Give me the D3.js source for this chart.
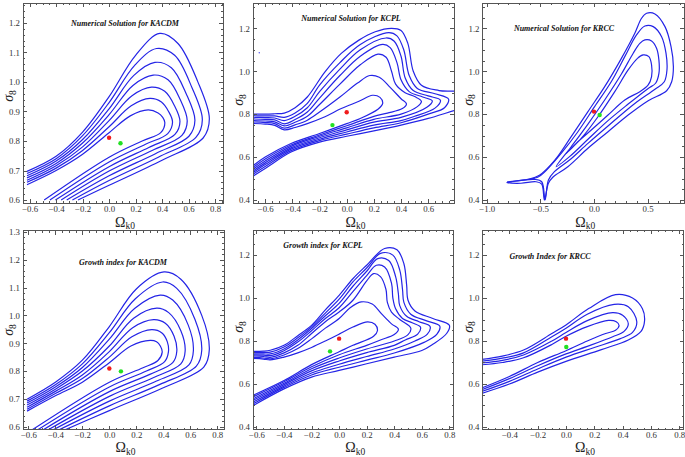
<!DOCTYPE html>
<html><head><meta charset="utf-8">
<script src="https://cdn.jsdelivr.net/npm/d3@7"></script>
<style>body{margin:0;background:#fff}svg{display:block}</style>
</head><body>
<svg id="chart" width="685" height="457"></svg>
<script>
// ---------------- DATA ----------------
const titles = ["Numerical Solution for KACDM","Numerical Solution for KCPL","Numerical Solution for KRCC",
                "Growth index for KACDM","Growth index for KCPL","Growth Index for KRCC"];

const xTicksA = [-0.6,-0.4,-0.2,0,0.2,0.4,0.6,0.8];
const xTicksB = [-0.6,-0.4,-0.2,0,0.2,0.4,0.6];
const xTicksC = [-1.0,-0.5,0,0.5];
const xTicksD = [-0.4,-0.2,0,0.2,0.4,0.6,0.8];
const yTicksA = [0.6,0.7,0.8,0.9,1.0,1.1,1.2];
const yTicksB = [0.6,0.7,0.8,0.9,1.0,1.1,1.2,1.3];
const yTicksC = [0.4,0.6,0.8,1.0,1.2];

// best-fit points [Omega_k0, sigma_8]
const redPoints   = [[0,0.811],[0,0.809],[0,0.812],[0,0.809],[0,0.811],[0,0.811]];
const greenPoints = [[0.086,0.792],[-0.105,0.749],[0.053,0.796],[0.086,0.799],[-0.066,0.752],[0.002,0.772]];
const strayPoints = [[-0.644,1.086]];

// contour lines, inner -> outer, [Omega_k0, sigma_8]
const kacdmNumContours = [
 [[-0.62,0.652],[-0.4,0.700],[-0.2,0.755],[0,0.828],[0.16,0.885],[0.295,0.905],[0.37,0.895],[0.405,0.88],[0.421,0.862],[0.39,0.828],[0.25,0.80],[0,0.745],[-0.49,0.6]],
 [[-0.62,0.660],[-0.4,0.708],[-0.2,0.768],[0,0.848],[0.167,0.919],[0.308,0.944],[0.395,0.932],[0.449,0.90],[0.479,0.864],[0.443,0.825],[0.275,0.789],[0,0.729],[-0.447,0.6]],
 [[-0.62,0.667],[-0.4,0.716],[-0.2,0.780],[0,0.869],[0.173,0.953],[0.32,0.982],[0.42,0.968],[0.493,0.92],[0.535,0.866],[0.497,0.822],[0.3,0.778],[0,0.713],[-0.405,0.6]],
 [[-0.62,0.675],[-0.4,0.724],[-0.2,0.793],[0,0.889],[0.18,0.988],[0.333,1.023],[0.445,1.007],[0.537,0.94],[0.59,0.868],[0.55,0.819],[0.325,0.768],[0,0.698],[-0.362,0.6]],
 [[-0.62,0.682],[-0.4,0.732],[-0.2,0.805],[0,0.909],[0.187,1.022],[0.346,1.066],[0.47,1.048],[0.582,0.96],[0.648,0.870],[0.603,0.816],[0.35,0.757],[0,0.682],[-0.32,0.6]],
 [[-0.62,0.690],[-0.4,0.740],[-0.2,0.818],[0,0.930],[0.193,1.056],[0.358,1.113],[0.495,1.09],[0.626,0.98],[0.704,0.872],[0.657,0.813],[0.375,0.746],[0,0.666],[-0.277,0.6]],
 [[-0.62,0.697],[-0.4,0.748],[-0.2,0.830],[0,0.950],[0.2,1.09],[0.383,1.164],[0.52,1.13],[0.67,1.0],[0.757,0.875],[0.71,0.81],[0.40,0.735],[0,0.65],[-0.235,0.6]]
];

const kcplNumContours = [
 [[-0.72,0.757],[-0.60,0.754],[-0.53,0.748],[-0.46,0.727],[-0.38,0.738],[-0.29,0.756],[-0.16,0.788],[-0.04,0.826],[0.09,0.86],[0.19,0.888],[0.245,0.878],[0.265,0.85],[0.23,0.823],[0.1,0.78],[0.0,0.756],[-0.2,0.71],[-0.41,0.663],[-0.6,0.60],[-0.72,0.545]],
 [[-0.72,0.764],[-0.60,0.761],[-0.53,0.756],[-0.46,0.735],[-0.38,0.75],[-0.29,0.772],[-0.2,0.81],[-0.05,0.88],[0.08,0.945],[0.17,0.98],[0.24,0.972],[0.32,0.925],[0.40,0.872],[0.44,0.848],[0.41,0.826],[0.3,0.805],[0.2,0.79],[0.0,0.746],[-0.2,0.703],[-0.41,0.656],[-0.6,0.591],[-0.72,0.537]],
 [[-0.72,0.771],[-0.60,0.768],[-0.53,0.764],[-0.46,0.745],[-0.38,0.762],[-0.29,0.79],[-0.2,0.845],[-0.05,0.94],[0.1,1.03],[0.23,1.08],[0.29,1.065],[0.33,1.0],[0.36,0.94],[0.43,0.9],[0.50,0.882],[0.55,0.86],[0.52,0.835],[0.4,0.80],[0.2,0.776],[0.0,0.736],[-0.2,0.697],[-0.41,0.65],[-0.6,0.582],[-0.72,0.53]],
 [[-0.72,0.778],[-0.60,0.776],[-0.53,0.773],[-0.46,0.755],[-0.38,0.775],[-0.29,0.81],[-0.2,0.875],[-0.05,0.98],[0.1,1.07],[0.265,1.125],[0.32,1.11],[0.37,1.04],[0.40,0.96],[0.46,0.905],[0.56,0.88],[0.63,0.862],[0.59,0.832],[0.4,0.785],[0.2,0.763],[0.0,0.727],[-0.2,0.69],[-0.41,0.643],[-0.6,0.573],[-0.72,0.522]],
 [[-0.72,0.786],[-0.60,0.784],[-0.53,0.782],[-0.46,0.77],[-0.38,0.79],[-0.29,0.83],[-0.2,0.905],[-0.05,1.01],[0.1,1.10],[0.29,1.155],[0.35,1.14],[0.40,1.07],[0.43,0.97],[0.49,0.91],[0.6,0.885],[0.69,0.865],[0.65,0.828],[0.5,0.79],[0.4,0.77],[0.2,0.749],[0.0,0.717],[-0.2,0.683],[-0.41,0.637],[-0.6,0.565],[-0.72,0.515]],
 [[-0.72,0.793],[-0.60,0.792],[-0.53,0.792],[-0.46,0.785],[-0.38,0.805],[-0.29,0.85],[-0.2,0.935],[-0.05,1.04],[0.1,1.125],[0.31,1.18],[0.37,1.165],[0.42,1.10],[0.46,0.98],[0.52,0.92],[0.65,0.895],[0.75,0.87],[0.72,0.83],[0.6,0.80],[0.4,0.76],[0.2,0.736],[0.0,0.707],[-0.2,0.677],[-0.41,0.63],[-0.6,0.556],[-0.72,0.508]],
 [[-0.72,0.80],[-0.60,0.80],[-0.53,0.802],[-0.46,0.805],[-0.38,0.83],[-0.29,0.88],[-0.16,0.997],[-0.04,1.083],[0.09,1.145],[0.21,1.184],[0.33,1.20],[0.40,1.19],[0.45,1.13],[0.49,1.0],[0.55,0.935],[0.68,0.91],[0.85,0.90],[0.88,0.86],[0.85,0.825],[0.81,0.82],[0.6,0.78],[0.4,0.749],[0.2,0.722],[0.0,0.697],[-0.2,0.67],[-0.41,0.624],[-0.6,0.547],[-0.72,0.50]]
];

const krccNumContours = [
 [[-0.259,0.617],[-0.119,0.687],[0.0375,0.788],[0.194,0.905],[0.319,1.006],[0.406,1.060],[0.459,1.076],[0.5125,1.068],[0.5375,1.029],[0.5375,0.975],[0.506,0.936],[0.428,0.905],[0.2875,0.866],[0.131,0.796],[-0.025,0.726],[-0.166,0.664]],
 [[-0.353,0.555],[-0.2125,0.648],[-0.056,0.754],[0.10,0.866],[0.256,0.987],[0.366,1.084],[0.428,1.130],[0.475,1.146],[0.5375,1.141],[0.584,1.107],[0.606,1.052],[0.606,0.990],[0.575,0.944],[0.506,0.920],[0.319,0.847],[0.131,0.770],[-0.056,0.683],[-0.228,0.602]],
 [[-0.806,0.484],[-0.525,0.506],[-0.447,0.537],[-0.306,0.617],[-0.15,0.718],[0.006,0.835],[0.1625,0.952],[0.2875,1.068],[0.397,1.169],[0.475,1.211],[0.553,1.208],[0.631,1.161],[0.672,1.084],[0.681,1.006],[0.656,0.951],[0.569,0.916],[0.381,0.850],[0.131,0.745],[-0.056,0.664],[-0.228,0.586],[-0.369,0.532],[-0.425,0.493],[-0.456,0.40],[-0.4875,0.485],[-0.556,0.496]],
 [[-0.8125,0.482],[-0.619,0.496],[-0.509,0.515],[-0.369,0.583],[-0.2125,0.695],[-0.056,0.812],[0.10,0.928],[0.256,1.060],[0.381,1.177],[0.444,1.247],[0.491,1.270],[0.569,1.267],[0.6625,1.208],[0.719,1.115],[0.741,1.021],[0.725,0.951],[0.678,0.909],[0.506,0.863],[0.319,0.796],[0.131,0.718],[-0.056,0.641],[-0.244,0.555],[-0.384,0.506],[-0.425,0.478],[-0.4625,0.40],[-0.4875,0.474],[-0.541,0.485],[-0.681,0.478]]
];

const kacdmGrowthContours = [
 [[-0.61,0.656],[-0.4,0.711],[-0.2,0.76],[0,0.83],[0.16,0.89],[0.303,0.91],[0.35,0.905],[0.378,0.89],[0.392,0.868],[0.36,0.838],[0.25,0.812],[0,0.76],[-0.6,0.58]],
 [[-0.61,0.663],[-0.4,0.719],[-0.2,0.773],[0,0.85],[0.167,0.923],[0.315,0.949],[0.39,0.937],[0.43,0.905],[0.438,0.869],[0.41,0.834],[0.275,0.80],[0,0.743],[-0.56,0.58]],
 [[-0.61,0.670],[-0.4,0.727],[-0.2,0.786],[0,0.87],[0.173,0.956],[0.328,0.985],[0.415,0.972],[0.48,0.925],[0.50,0.870],[0.47,0.83],[0.3,0.788],[0,0.726],[-0.52,0.58]],
 [[-0.61,0.678],[-0.4,0.735],[-0.2,0.80],[0,0.89],[0.18,0.99],[0.352,1.026],[0.44,1.01],[0.53,0.945],[0.562,0.872],[0.53,0.826],[0.325,0.776],[0,0.709],[-0.485,0.58]],
 [[-0.61,0.685],[-0.4,0.743],[-0.2,0.813],[0,0.915],[0.187,1.025],[0.377,1.073],[0.47,1.055],[0.585,0.965],[0.623,0.873],[0.59,0.822],[0.35,0.764],[0,0.692],[-0.45,0.58]],
 [[-0.61,0.692],[-0.4,0.751],[-0.2,0.826],[0,0.938],[0.193,1.06],[0.395,1.12],[0.50,1.097],[0.635,0.985],[0.685,0.875],[0.645,0.818],[0.375,0.752],[0,0.675],[-0.41,0.58]],
 [[-0.61,0.699],[-0.4,0.76],[-0.2,0.839],[0,0.96],[0.2,1.095],[0.405,1.156],[0.53,1.13],[0.685,1.0],[0.741,0.876],[0.70,0.814],[0.40,0.74],[0,0.658],[-0.37,0.58]]
];

const kcplGrowthContours = [
 [[-0.65,0.72],[-0.55,0.716],[-0.5,0.712],[-0.4,0.725],[-0.3,0.745],[-0.2,0.77],[-0.1,0.80],[0.0,0.832],[0.1,0.865],[0.207,0.889],[0.26,0.878],[0.278,0.848],[0.25,0.822],[0.1,0.78],[0.0,0.75],[-0.2,0.69],[-0.4,0.616],[-0.65,0.54]],
 [[-0.65,0.725],[-0.55,0.721],[-0.5,0.717],[-0.4,0.735],[-0.3,0.765],[-0.2,0.81],[-0.1,0.86],[0.0,0.905],[0.08,0.955],[0.16,0.982],[0.24,0.972],[0.31,0.925],[0.38,0.88],[0.43,0.855],[0.40,0.83],[0.3,0.805],[0.2,0.78],[0.0,0.736],[-0.2,0.68],[-0.4,0.61],[-0.65,0.532]],
 [[-0.65,0.731],[-0.55,0.728],[-0.5,0.724],[-0.4,0.745],[-0.3,0.78],[-0.2,0.835],[-0.1,0.89],[0.0,0.935],[0.1,0.99],[0.2,1.08],[0.25,1.114],[0.30,1.10],[0.34,1.04],[0.35,0.98],[0.38,0.935],[0.44,0.9],[0.52,0.86],[0.50,0.83],[0.4,0.80],[0.2,0.763],[0.0,0.721],[-0.2,0.671],[-0.4,0.603],[-0.65,0.523]],
 [[-0.65,0.736],[-0.55,0.734],[-0.5,0.732],[-0.4,0.755],[-0.3,0.795],[-0.2,0.848],[-0.1,0.905],[0.0,0.955],[0.1,1.03],[0.2,1.105],[0.27,1.153],[0.33,1.145],[0.38,1.07],[0.39,1.0],[0.41,0.95],[0.46,0.905],[0.53,0.885],[0.59,0.865],[0.57,0.832],[0.48,0.805],[0.4,0.78],[0.2,0.746],[0.0,0.707],[-0.2,0.661],[-0.4,0.597],[-0.65,0.515]],
 [[-0.65,0.741],[-0.55,0.74],[-0.5,0.74],[-0.4,0.763],[-0.3,0.805],[-0.2,0.858],[-0.1,0.918],[0.0,0.975],[0.1,1.055],[0.2,1.125],[0.28,1.184],[0.36,1.175],[0.41,1.10],[0.43,1.02],[0.44,0.965],[0.49,0.915],[0.58,0.89],[0.66,0.868],[0.64,0.832],[0.55,0.80],[0.4,0.763],[0.2,0.728],[0.0,0.692],[-0.2,0.651],[-0.4,0.59],[-0.65,0.507]],
 [[-0.65,0.747],[-0.55,0.747],[-0.5,0.748],[-0.4,0.772],[-0.3,0.815],[-0.2,0.866],[-0.1,0.93],[0.0,0.995],[0.1,1.075],[0.2,1.14],[0.30,1.208],[0.39,1.20],[0.44,1.13],[0.46,1.04],[0.47,0.98],[0.52,0.925],[0.63,0.895],[0.73,0.87],[0.71,0.832],[0.62,0.795],[0.4,0.744],[0.2,0.711],[0.0,0.678],[-0.2,0.642],[-0.4,0.584],[-0.65,0.498]],
 [[-0.65,0.752],[-0.55,0.753],[-0.5,0.757],[-0.4,0.78],[-0.3,0.825],[-0.2,0.873],[-0.1,0.945],[0.0,1.013],[0.1,1.09],[0.2,1.153],[0.33,1.231],[0.42,1.225],[0.47,1.16],[0.49,1.06],[0.5,0.99],[0.55,0.94],[0.68,0.905],[0.80,0.873],[0.78,0.835],[0.68,0.785],[0.6,0.756],[0.4,0.725],[0.2,0.694],[0.0,0.663],[-0.2,0.632],[-0.4,0.577],[-0.65,0.49]]
];

const krccGrowthContours = [
 [[-0.62,0.688],[-0.45,0.70],[-0.3,0.722],[-0.1,0.784],[0.0,0.822],[0.15,0.867],[0.30,0.896],[0.355,0.89],[0.375,0.872],[0.35,0.85],[0.28,0.835],[0.15,0.80],[0.0,0.755],[-0.2,0.70],[-0.4,0.635],[-0.62,0.575]],
 [[-0.62,0.696],[-0.45,0.71],[-0.3,0.735],[-0.1,0.80],[0.0,0.84],[0.15,0.895],[0.33,0.932],[0.40,0.92],[0.44,0.88],[0.41,0.845],[0.33,0.82],[0.15,0.775],[0.0,0.74],[-0.2,0.685],[-0.4,0.625],[-0.62,0.567]],
 [[-0.62,0.704],[-0.45,0.72],[-0.3,0.745],[-0.1,0.82],[0.0,0.86],[0.15,0.925],[0.34,0.971],[0.44,0.96],[0.50,0.89],[0.47,0.84],[0.38,0.81],[0.2,0.77],[0.0,0.725],[-0.2,0.67],[-0.4,0.612],[-0.62,0.559]],
 [[-0.62,0.712],[-0.45,0.73],[-0.3,0.758],[-0.1,0.835],[0.0,0.875],[0.16,0.951],[0.35,1.016],[0.47,1.0],[0.54,0.95],[0.555,0.895],[0.53,0.845],[0.44,0.805],[0.25,0.76],[0.0,0.705],[-0.2,0.655],[-0.4,0.6],[-0.62,0.551]]
];

// ---------------- LAYOUT ----------------
const serif = '"Liberation Serif","Times New Roman",serif';
const panels = [
 {contours:kacdmNumContours, closed:false, xTicks:xTicksA, yTicks:yTicksA, frame:[23,3,223,203], xDom:[-0.65,0.86], yDom:[0.59,1.267], xMinor:0.05, yMinor:0.02, titleXY:[125,26], yLabY:96, xLabDy:23.5},
 {contours:kcplNumContours, closed:false, xTicks:xTicksB, yTicks:yTicksC, frame:[253,3,454,203], xDom:[-0.69,0.79], yDom:[0.386,1.318], xMinor:0.05, yMinor:0.05, titleXY:[351,21], yLabY:100, xLabDy:23.5},
 {contours:krccNumContours, closed:true, xTicks:xTicksC, yTicks:yTicksC, frame:[482.5,3,684,203], xDom:[-1.04,0.84], yDom:[0.386,1.318], xMinor:0.1, yMinor:0.05, titleXY:[564,31], yLabY:100, xLabDy:23.5},
 {contours:kacdmGrowthContours, closed:false, xTicks:xTicksA, yTicks:yTicksB, frame:[23,230.5,224,429.5], xDom:[-0.64,0.85], yDom:[0.59,1.305], xMinor:0.05, yMinor:0.02, titleXY:[123,265], yLabY:330, xLabDy:22.5},
 {contours:kcplGrowthContours, closed:false, xTicks:xTicksA, yTicks:yTicksC, frame:[253,230,453.5,429.5], xDom:[-0.625,0.83], yDom:[0.388,1.317], xMinor:0.05, yMinor:0.05, titleXY:[323,248], yLabY:327, xLabDy:22.5},
 {contours:krccGrowthContours, closed:false, xTicks:xTicksD, yTicks:yTicksC, frame:[482.5,230,683.5,429.5], xDom:[-0.59,0.83], yDom:[0.388,1.317], xMinor:0.05, yMinor:0.05, titleXY:[550,259], yLabY:327, xLabDy:22.5}
];

const svg = d3.select("#chart");
const fmt = d3.format(".1f");
function minorsOf(dom, step, majors){
  const a = Math.ceil(dom[0]/step - 1e-9), b = Math.floor(dom[1]/step + 1e-9);
  return d3.range(a, b+1).map(i => +(i*step).toFixed(4)).filter(v => !majors.some(m => Math.abs(m-v) < 1e-6));
}
function styleAxis(sel){
  sel.select(".domain").remove();
  sel.selectAll("line").attr("stroke","#555").attr("shape-rendering","crispEdges");
  sel.selectAll("text").style("font-family",serif).style("font-size","8.8px").attr("fill","#333");
}

panels.forEach((p,i) => {
  const [x0,y0,x1,y1] = p.frame;
  const xs = d3.scaleLinear().domain(p.xDom).range([x0,x1]);
  const ys = d3.scaleLinear().domain(p.yDom).range([y1,y0]);
  const g = svg.append("g");
  const clipId = "clip"+i;
  svg.append("clipPath").attr("id",clipId).append("rect")
     .attr("x",x0).attr("y",y0).attr("width",x1-x0).attr("height",y1-y0);

  const line = d3.line().x(d=>xs(d[0])).y(d=>ys(d[1]))
     .curve(p.closed ? d3.curveCatmullRomClosed.alpha(0.5) : d3.curveCatmullRom.alpha(0.5));
  const cg = g.append("g").attr("clip-path",`url(#${clipId})`);
  cg.selectAll("path.c").data(p.contours).join("path").attr("class","c")
    .attr("d", line).attr("fill","none").attr("stroke","#2424e6").attr("stroke-width",1.2);
  if (i === 1) {
    cg.selectAll("circle.s").data(strayPoints).join("circle").attr("class","s")
      .attr("cx",d=>xs(d[0])).attr("cy",d=>ys(d[1])).attr("r",0.7).attr("fill","#4444ee");
  }
  cg.append("circle").attr("cx",xs(redPoints[i][0])).attr("cy",ys(redPoints[i][1])).attr("r",2.2).attr("fill","#f01c1c");
  cg.append("circle").attr("cx",xs(greenPoints[i][0])).attr("cy",ys(greenPoints[i][1])).attr("r",2.2).attr("fill","#22e022");

  // axes (ticks pointing inward on all four sides)
  const xMin = minorsOf(p.xDom, p.xMinor, p.xTicks);
  const yMin = minorsOf(p.yDom, p.yMinor, p.yTicks);
  g.append("g").attr("transform",`translate(0,${y1})`)
    .call(d3.axisBottom(xs).tickValues(p.xTicks).tickSize(-4).tickPadding(2.5).tickFormat(fmt)).call(styleAxis);
  g.append("g").attr("transform",`translate(0,${y1})`)
    .call(d3.axisBottom(xs).tickValues(xMin).tickSize(-2).tickFormat("")).call(styleAxis);
  g.append("g").attr("transform",`translate(0,${y0})`)
    .call(d3.axisTop(xs).tickValues(p.xTicks).tickSize(-4).tickFormat("")).call(styleAxis);
  g.append("g").attr("transform",`translate(0,${y0})`)
    .call(d3.axisTop(xs).tickValues(xMin).tickSize(-2).tickFormat("")).call(styleAxis);
  g.append("g").attr("transform",`translate(${x0},0)`)
    .call(d3.axisLeft(ys).tickValues(p.yTicks).tickSize(-4).tickPadding(3).tickFormat(fmt)).call(styleAxis);
  g.append("g").attr("transform",`translate(${x0},0)`)
    .call(d3.axisLeft(ys).tickValues(yMin).tickSize(-2).tickFormat("")).call(styleAxis);
  g.append("g").attr("transform",`translate(${x1},0)`)
    .call(d3.axisRight(ys).tickValues(p.yTicks).tickSize(-4).tickFormat("")).call(styleAxis);
  g.append("g").attr("transform",`translate(${x1},0)`)
    .call(d3.axisRight(ys).tickValues(yMin).tickSize(-2).tickFormat("")).call(styleAxis);

  g.append("rect").attr("x",x0).attr("y",y0).attr("width",x1-x0).attr("height",y1-y0)
    .attr("fill","none").attr("stroke","#555").attr("stroke-width",1).attr("shape-rendering","crispEdges");

  // title
  g.append("text").attr("x",p.titleXY[0]).attr("y",p.titleXY[1]).attr("text-anchor","middle")
    .style("font-family",serif).style("font-size","8px").style("font-weight","bold").style("font-style","italic")
    .attr("fill","#111").text(titles[i]);

  // x label  Ω_k0
  const cx = (x0+x1)/2 + 2;
  const xl = g.append("text").attr("x",cx).attr("y",y1+p.xLabDy).attr("text-anchor","middle")
    .style("font-family",serif).style("font-size","14px").attr("fill","#222");
  xl.append("tspan").text("Ω");
  xl.append("tspan").attr("dy",2.5).style("font-size","9.5px").text("k0");

  // y label  σ_8
  const yl = g.append("text").attr("transform",`translate(${x0-10},${p.yLabY}) rotate(-90)`)
    .attr("text-anchor","middle").style("font-family",serif).style("font-size","14px").attr("fill","#222");
  yl.append("tspan").style("font-style","italic").text("σ");
  yl.append("tspan").attr("dy",2.5).style("font-size","9.5px").text("8");
});
</script>
</body></html>
